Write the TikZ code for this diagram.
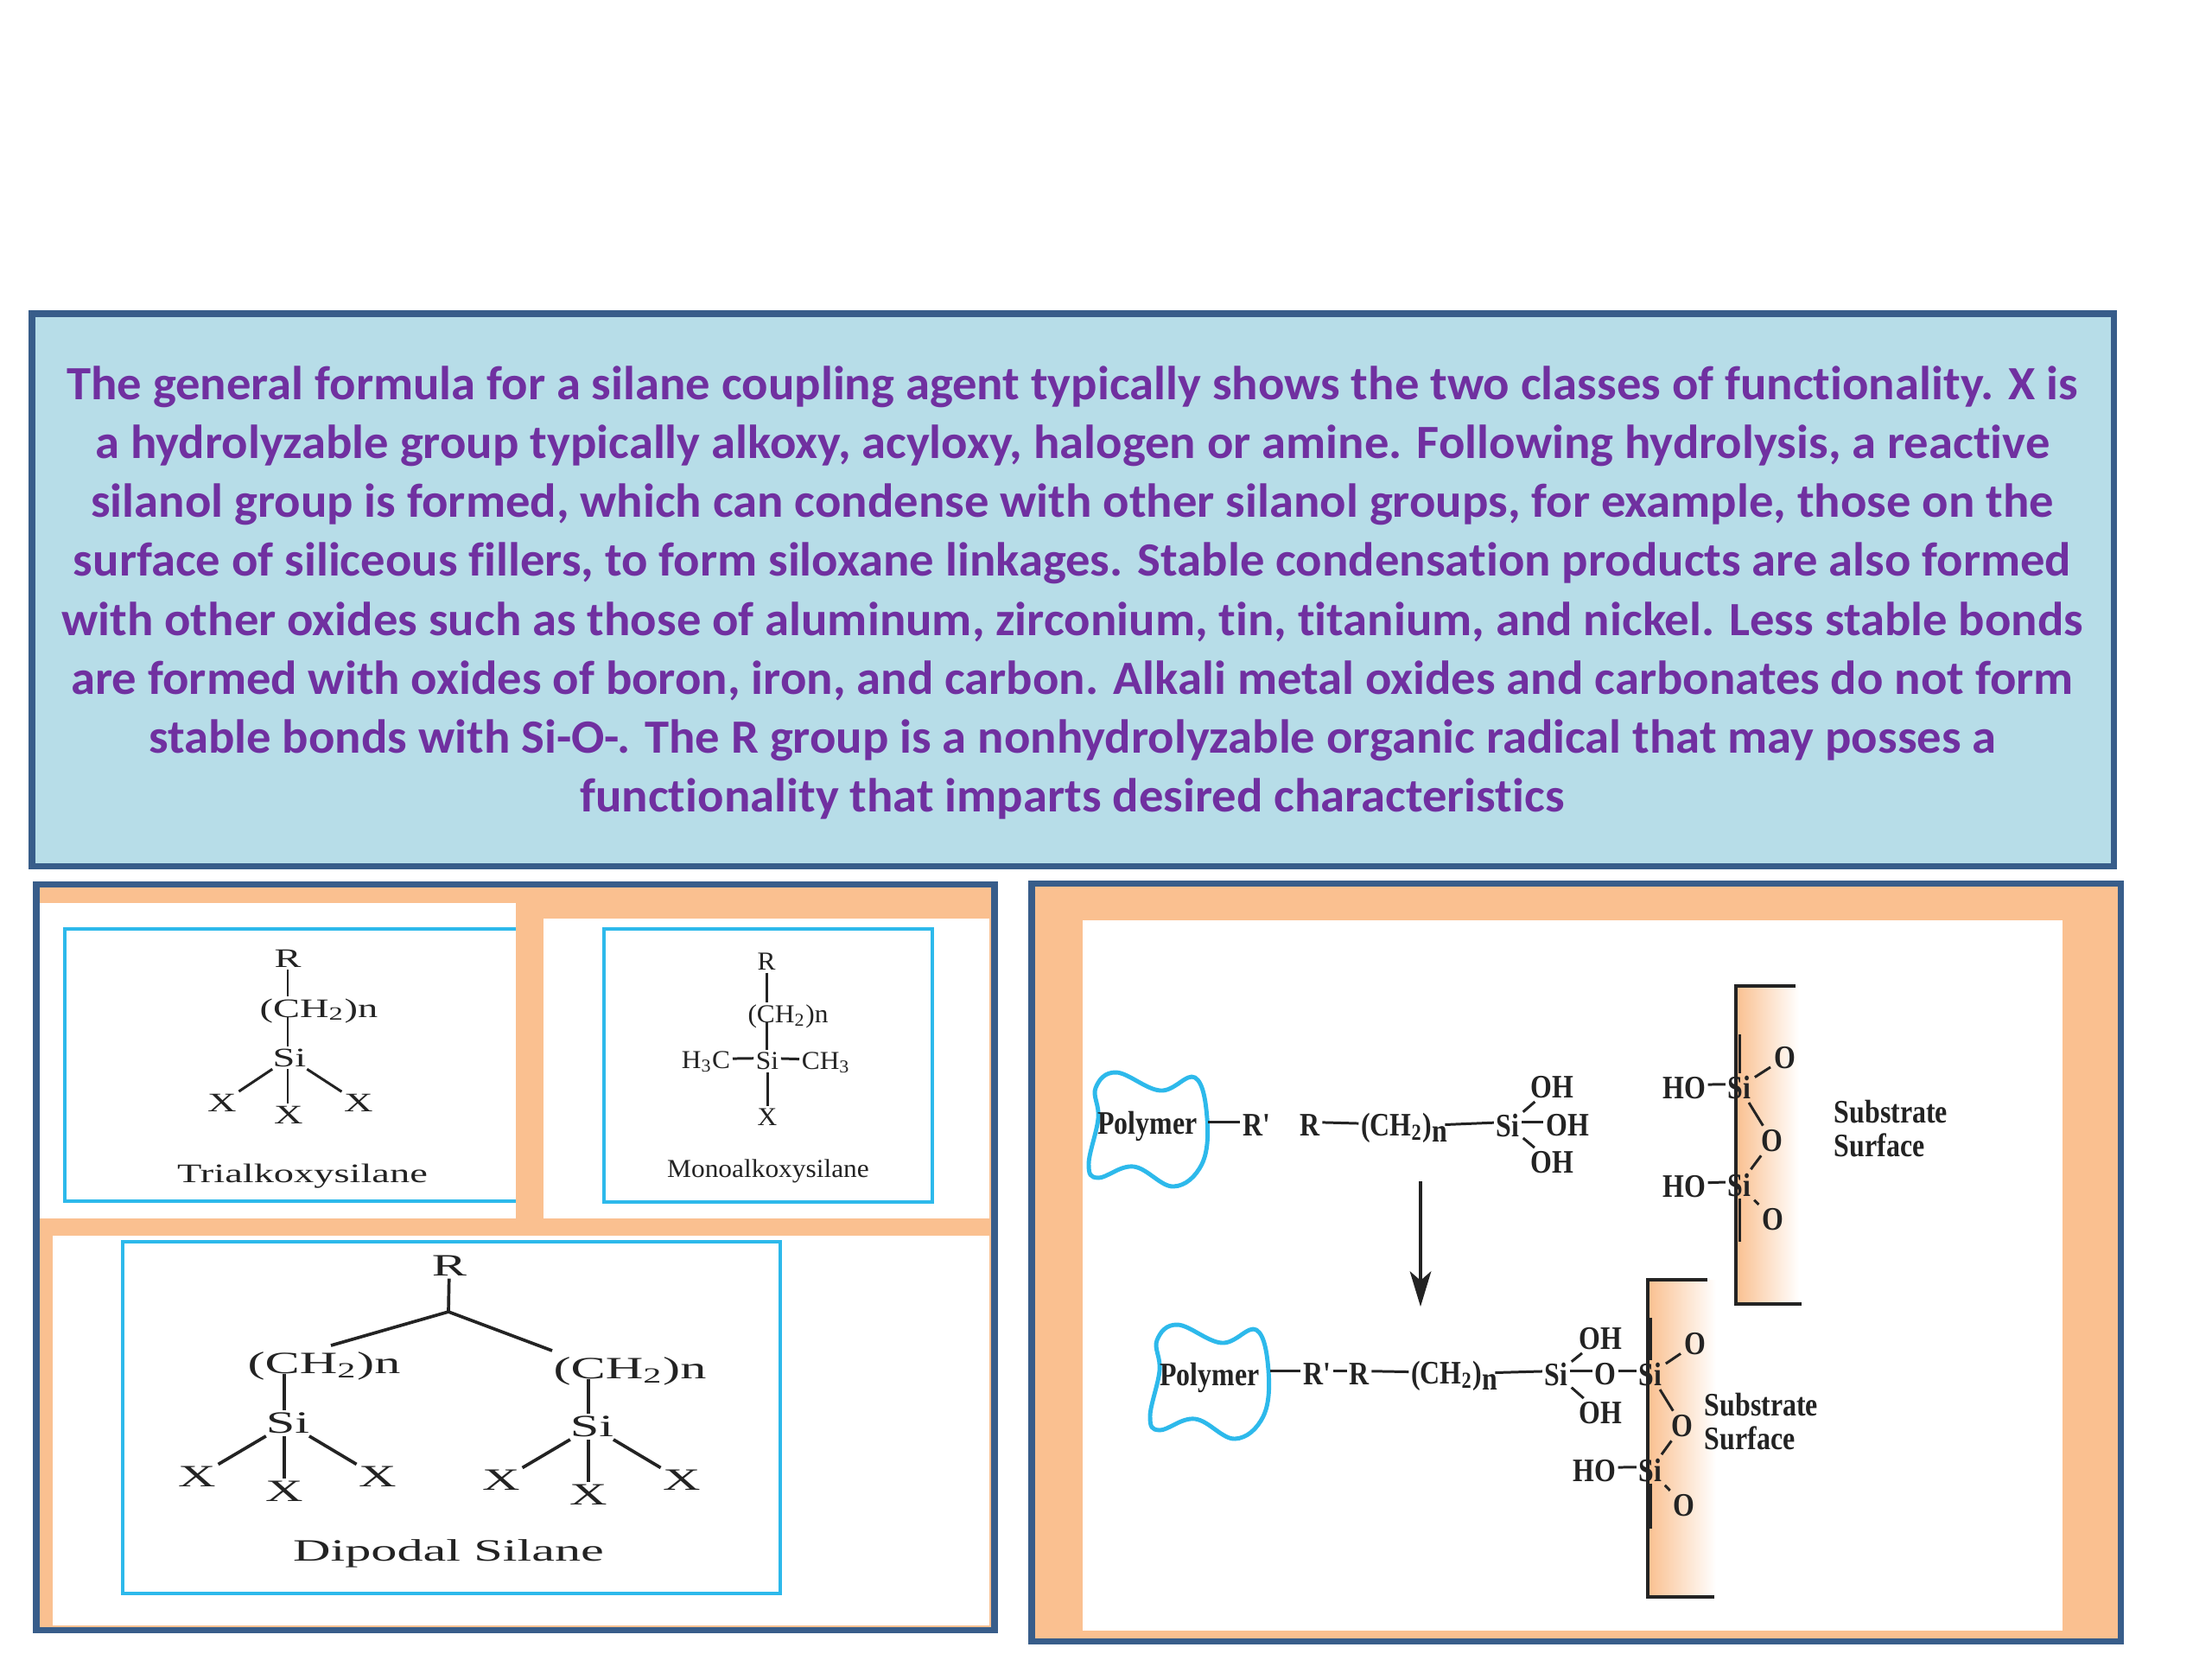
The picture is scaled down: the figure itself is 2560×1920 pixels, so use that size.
\documentclass[tikz,border=0pt]{standalone}
\usepackage{fontspec}
\usetikzlibrary{arrows.meta}
\setmainfont{Liberation Serif}
\newfontfamily\topfont[FakeStretch=1.027,Ligatures=NoCommon]{Carlito}
\newfontfamily\trifont[FakeStretch=1.5]{Liberation Serif}
\newfontfamily\monofont[FakeStretch=1.05]{Liberation Serif}
\newfontfamily\dipfont[FakeStretch=1.68]{Liberation Serif}
\newfontfamily\subfont[FakeStretch=0.84]{Liberation Serif}
\definecolor{panelblue}{RGB}{56, 93, 138}
\definecolor{toplight}{RGB}{183, 221, 232}
\definecolor{toppurple}{RGB}{112, 48, 160}
\definecolor{panelorange}{RGB}{250, 192, 144}
\definecolor{boxcyan}{RGB}{45, 185, 235}
\definecolor{inkgrey}{RGB}{35, 35, 35}
\tikzset{
  panel/.style={draw=panelblue,line width=2pt,fill=panelorange},
  cyanbox/.style={draw=boxcyan,line width=1.4pt},
  atom/.style={inner sep=0.6pt,text=inkgrey},
  triatom/.style={atom,font=\trifont\fontsize{8.8}{10}\selectfont},
  monoatom/.style={atom,font=\monofont\fontsize{8.5}{10}\selectfont},
  dipatom/.style={atom,font=\dipfont\fontsize{10.2}{12}\selectfont},
  subatom/.style={atom,font=\subfont\bfseries\fontsize{10.8}{12}\selectfont},
  bond/.style={draw=inkgrey,line width=0.85pt},
  sbond/.style={bond,shorten <=0.6pt,shorten >=0.6pt},
  thickbond/.style={draw=inkgrey,line width=1.05pt},
  hbond/.style={bond,transform canvas={yshift=1pt}},
  bracket/.style={draw=inkgrey,line width=1.1pt},
  blob/.style={draw=boxcyan,line width=1.4pt}
}
\begin{document}
\begin{tikzpicture}[x=0.01cm,y=-0.01cm]
\useasboundingbox (0,0) rectangle (2560,1920);

% Top text panel
\draw[draw=panelblue,line width=2pt,fill=toplight] (37,363) rectangle (2446,1002);
\node[text=toppurple,align=center,font=\topfont\bfseries\fontsize{15.7}{19.4}\selectfont] (topText) at (1241,686) {The general formula for a silane coupling agent typically shows the two classes of functionality. X is\\
a hydrolyzable group typically alkoxy, acyloxy, halogen or amine. Following hydrolysis, a reactive\\
silanol group is formed, which can condense with other silanol groups, for example, those on the\\
surface of siliceous fillers, to form siloxane linkages. Stable condensation products are also formed\\
with other oxides such as those of aluminum, zirconium, tin, titanium, and nickel. Less stable bonds\\
are formed with oxides of boron, iron, and carbon. Alkali metal oxides and carbonates do not form\\
stable bonds with Si-O-. The R group is a nonhydrolyzable organic radical that may posses a\\
functionality that imparts desired characteristics};

% Left panel
\draw[panel] (42,1023) rectangle (1151,1886);
\fill[white] (46,1045) rectangle (597,1410);
\fill[white] (629,1063) rectangle (1145,1410);
\fill[white] (61,1430) rectangle (1145,1881);
\draw[cyanbox] (597,1075) -- (75,1075) -- (75,1390) -- (597,1390);
\draw[cyanbox] (699,1075) rectangle (1079,1391);
\draw[cyanbox] (142,1437) rectangle (903,1844);

% Trialkoxysilane
\node[triatom] (triR) at (333,1109) {R};
\node[triatom] (triCH) at (369,1170) {(CH\textsubscript{2})n};
\node[triatom] (triSi) at (335,1224) {Si};
\node[triatom] (triXa) at (257,1276) {X};
\node[triatom] (triXb) at (334,1290) {X};
\node[triatom] (triXc) at (415,1276) {X};
\node[triatom] (triName) at (350,1361) {Trialkoxysilane};
\draw[bond] (triR) -- (triR |- triCH.north);
\draw[bond] (triR |- triCH.base) -- (triR |- triSi.north);
\draw[bond] (triSi) -- (triXa);
\draw[bond] (triR |- triSi.south) -- (triR |- triXb.north);
\draw[bond] (triSi) -- (triXc);

% Monoalkoxysilane
\node[monoatom] (monoR) at (887,1113) {R};
\node[monoatom] (monoCH) at (912,1176) {(CH\textsubscript{2})n};
\node[monoatom] (monoSi) at (888,1228) {Si};
\node[monoatom] (monoCa) at (817,1229) {H\textsubscript{3}C};
\node[monoatom] (monoCb) at (956,1230) {CH\textsubscript{3}};
\node[monoatom] (monoX) at (888,1293) {X};
\node[monoatom] (monoName) at (889,1355) {Monoalkoxysilane};
\draw[bond] (monoR) -- (monoR |- monoCH.north);
\draw[bond] (monoR |- monoCH.base) -- (monoR |- monoSi.north);
\draw[hbond] (monoCa) -- (monoSi);
\draw[hbond] (monoSi) -- (monoCb);
\draw[bond] (monoSi) -- (monoX);

% Dipodal silane
\node[dipatom] (dipR) at (520,1465) {R};
\coordinate (dipJoin) at (519,1518);
\coordinate (dipEndl) at (383,1557);
\coordinate (dipEndr) at (639,1563);
\node[dipatom] (dipCHa) at (375,1581) {(CH\textsubscript{2})n};
\node[dipatom] (dipCHb) at (729,1587) {(CH\textsubscript{2})n};
\node[dipatom] (dipName) at (519,1798) {Dipodal Silane};
\draw[thickbond] (dipR) -- (dipJoin);
\draw[thickbond] (dipJoin) -- (dipEndl);
\draw[thickbond] (dipJoin) -- (dipEndr);
\foreach \n/\x/\y in {a/328/1647,b/680/1651} {
    \node[dipatom] (dipSi\n) at (\x+5,\y) {Si};
    \node[dipatom] (dipX\n l) at (\x-100,\y+62) {X};
    \node[dipatom] (dipX\n m) at (\x+1,\y+79) {X};
    \node[dipatom] (dipX\n r) at (\x+109,\y+62) {X};
    \draw[thickbond] (dipSi\n) -- (dipX\n l);
    \draw[thickbond] (dipX\n m |- dipSi\n.south) -- (dipX\n m);
    \draw[thickbond] (dipSi\n) -- (dipX\n r);
    \draw[thickbond] (dipX\n m |- dipCH\n.base) -- (dipX\n m |- dipSi\n.north);
}

% Right panel
\draw[panel] (1194,1022) rectangle (2454,1899);
\fill[white] (1253,1065) rectangle (2387,1887);

% Substrate strips
\shade[left color=panelorange,right color=white] (2009,1141) rectangle (2082,1508);
\shade[left color=panelorange,right color=white] (1907,1481) rectangle (1986,1848);
\draw[bracket] (2078,1141) -- (2009,1141) -- (2009,1509) -- (2085,1509);
\draw[bracket] (1976,1481) -- (1907,1481) -- (1907,1848) -- (1984,1848);

% Polymer blobs
\foreach \sx/\sy in {0/0,71/292} {
    \draw[blob,shift={(\sx,\sy)}] plot[smooth cycle,tension=0.65] coordinates {(1292,1241) (1343,1262) (1383,1247) (1397,1294) (1391,1347) (1358,1373) (1312,1350) (1271,1363) (1260,1347) (1271,1294) (1268,1259)};
}

% Upper reaction line
\node[subatom] (polyA) at (1328,1303) {Polymer};
\node[subatom] (rpA) at (1454,1302) {R'};
\node[subatom] (rA) at (1516,1302) {R};
\node[subatom] (chA) at (1625,1305) {(CH\textsubscript{2})\raisebox{-2pt}{n}};
\node[subatom] (siA) at (1745,1302) {Si};
\node[subatom] (ohAa) at (1796,1258) {OH};
\node[subatom] (ohAb) at (1814,1302) {OH};
\node[subatom] (ohAc) at (1796,1345) {OH};
\coordinate (polyAe) at (1398,1302);
\draw[hbond] (polyAe) -- (rpA);
\draw[hbond] (rA) -- (chA);
\draw[hbond] ([xshift=-1.5pt]chA.east) -- (siA);
\draw[hbond] (siA) -- (ohAb);
\draw[sbond] (siA) -- (ohAa);
\draw[sbond] (siA) -- (ohAc);

% Upper surface
\node[subatom] (hoBa) at (1949,1259) {HO};
\node[subatom] (siBa) at (2013,1258) {Si};
\node[subatom] (oBa) at (2066,1224) {O};
\node[subatom] (oBb) at (2051,1320) {O};
\node[subatom] (hoBb) at (1949,1373) {HO};
\node[subatom] (siBb) at (2013,1371) {Si};
\node[subatom] (oBc) at (2052,1411) {O};
\node[subatom,align=left,anchor=west,font=\subfont\bfseries\fontsize{10.8}{11.3}\selectfont] (subA) at (2120,1306) {Substrate\\Surface};
\coordinate (surfBa) at (2013,1197);
\coordinate (surfBb) at (2013,1437);
\draw[hbond] (hoBa) -- (siBa);
\draw[sbond] (siBa) -- (oBa);
\draw[sbond] (siBa) -- (oBb);
\draw[sbond] (oBb) -- (siBb);
\draw[hbond] (hoBb) -- (siBb);
\draw[sbond] (siBb) -- (oBc);
\draw[bond] (siBa) -- (surfBa);
\draw[bond] (siBb) -- (surfBb);

% Arrow
\coordinate (arrowTop) at (1644,1367);
\coordinate (arrowEnd) at (1644,1512);
\draw[bond,line width=1pt,-{Stealth[length=11.6pt,width=7pt,inset=3pt]}] (arrowTop) -- (arrowEnd);

% Lower reaction line
\node[subatom] (polyC) at (1400,1594) {Polymer};
\node[subatom] (rpC) at (1524,1590) {R'};
\node[subatom] (rC) at (1573,1590) {R};
\node[subatom] (chC) at (1683,1592) {(CH\textsubscript{2})\raisebox{-2pt}{n}};
\node[subatom] (siC) at (1801,1590) {Si};
\node[subatom] (ohCa) at (1852,1549) {OH};
\node[subatom] (ohCb) at (1852,1635) {OH};
\node[subatom] (oC) at (1858,1590) {O};
\node[subatom] (siDa) at (1910,1590) {Si};
\node[subatom] (oDa) at (1962,1555) {O};
\node[subatom] (oDb) at (1947,1650) {O};
\node[subatom] (hoD) at (1845,1702) {HO};
\node[subatom] (siDb) at (1910,1701) {Si};
\node[subatom] (oDc) at (1949,1742) {O};
\node[subatom,align=left,anchor=west,font=\subfont\bfseries\fontsize{10.8}{11.3}\selectfont] (subC) at (1970,1645) {Substrate\\Surface};
\coordinate (polyCe) at (1470,1590);
\coordinate (surfDa) at (1910,1525);
\coordinate (surfDb) at (1910,1769);
\draw[hbond] (polyCe) -- (rpC);
\draw[hbond] (rpC) -- (rC);
\draw[hbond] (rC) -- (chC);
\draw[hbond] ([xshift=-1.5pt]chC.east) -- (siC);
\draw[hbond] (siC) -- (oC);
\draw[hbond] (oC) -- (siDa);
\draw[sbond] (siC) -- (ohCa);
\draw[sbond] (siC) -- (ohCb);
\draw[sbond] (siDa) -- (oDa);
\draw[sbond] (siDa) -- (oDb);
\draw[sbond] (oDb) -- (siDb);
\draw[hbond] (hoD) -- (siDb);
\draw[sbond] (siDb) -- (oDc);
\draw[bond] (siDa) -- (surfDa);
\draw[bond] (siDb) -- (surfDb);
\end{tikzpicture}
\end{document}
